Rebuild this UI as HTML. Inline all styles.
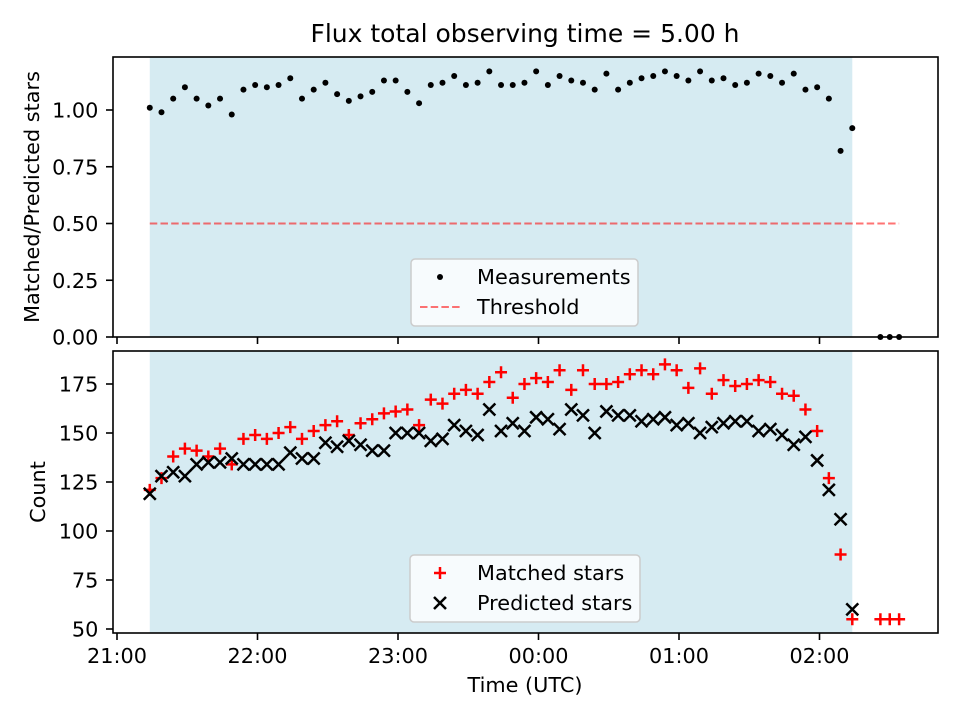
<!DOCTYPE html>
<html><head><meta charset="utf-8"><style>
body{margin:0;background:#fff}
svg{font-family:"DejaVu Sans","Liberation Sans",sans-serif}
</style></head><body>
<svg id="c" width="960" height="720" xmlns="http://www.w3.org/2000/svg"></svg>
<script>
const ratio=[1.01,0.99,1.05,1.10,1.05,1.02,1.05,0.98,1.09,1.11,1.10,1.11,1.14,1.05,1.09,1.12,1.07,1.04,1.06,1.08,1.13,1.13,1.08,1.03,1.11,1.12,1.15,1.11,1.12,1.17,1.11,1.11,1.12,1.17,1.11,1.15,1.13,1.12,1.09,1.16,1.09,1.12,1.14,1.15,1.17,1.15,1.13,1.17,1.13,1.14,1.11,1.12,1.16,1.15,1.12,1.16,1.09,1.10,1.05,0.82,0.92];
const matched=[121,127,138,142,141,138,142,134,147,149,147,150,153,147,151,154,156,149,155,157,160,161,162,154,167,165,170,172,170,176,181,168,175,178,176,182,172,182,175,175,176,180,182,180,185,182,173,183,170,177,174,175,177,176,170,169,162,151,127,88,55];
const predicted=[119,128,130,128,134,135,135,137,134,134,134,134,140,137,137,145,143,146,144,141,141,150,150,150,146,147,154,151,149,162,151,155,151,158,157,152,162,159,150,161,159,159,156,157,158,154,155,150,153,155,156,156,151,152,149,144,148,136,121,106,60];
const tailMin=[326,330,334];
const tailRatio=[0,0,0];
const tailMatched=[55,55,55];
const startMin=14, stepMin=5;
const xTicks=["21:00","22:00","23:00","00:00","01:00","02:00"];
const yTopTicks=[0,0.25,0.5,0.75,1.0];
const yBotTicks=[50,75,100,125,150,175];
const threshold=0.5;

const svg=document.getElementById('c');
const NS='http://www.w3.org/2000/svg';
function el(t,a,txt){const e=document.createElementNS(NS,t);for(const k in a)e.setAttribute(k,a[k]);if(txt!==undefined)e.textContent=txt;svg.appendChild(e);return e;}
const X=m=>117+m*140.5/60;
const YT=v=>337-v*227;
const YB=v=>629-(v-50)*1.96;
const L=113,R=938;
const FS=20.8;
const minutes=ratio.map((_,i)=>startMin+i*stepMin);
const spanEnd=minutes[minutes.length-1];

[[57,337],[351,633]].forEach(([t,b],pi)=>{
 let s=el('rect',{x:X(startMin),y:t,width:X(spanEnd)-X(startMin),height:b-t,fill:'#add8e6','fill-opacity':0.5});
 
 
});
let tl=el('line',{x1:X(startMin),x2:X(tailMin[2]),y1:YT(threshold),y2:YT(threshold),stroke:'#ff0000','stroke-opacity':0.55,'stroke-width':2,'stroke-dasharray':'7.5,3.2'});


ratio.forEach((v,i)=>{const c=el('circle',{cx:X(minutes[i]),cy:YT(v),r:3,fill:'#000'});

});
tailRatio.forEach((v,i)=>{const c=el('circle',{cx:X(tailMin[i]),cy:YT(v),r:3,fill:'#000'});

});
function plus(x,y){const p=el('path',{d:`M${x-6},${y}H${x+6}M${x},${y-6}V${y+6}`,stroke:'#f00','stroke-width':2.5});

}
function cross(x,y){const p=el('path',{d:`M${x-6},${y-6}L${x+6},${y+6}M${x-6},${y+6}L${x+6},${y-6}`,stroke:'#000','stroke-width':2.5});

}
matched.forEach((v,i)=>plus(X(minutes[i]),YB(v)));
tailMatched.forEach((v,i)=>plus(X(tailMin[i]),YB(v)));
predicted.forEach((v,i)=>cross(X(minutes[i]),YB(v)));

[[57,337,yTopTicks,YT,'top'],[351,633,yBotTicks,YB,'bottom']].forEach(([t,b,ticks,f,n])=>{
 const r=el('rect',{x:L,y:t,width:R-L,height:b-t,fill:'none',stroke:'#000','stroke-width':1.6});
 
 
 ticks.forEach(v=>{const y=f(v);el('line',{x1:L-7,x2:L,y1:y,y2:y,stroke:'#000','stroke-width':1.6});
  const tx=el('text',{x:L-14.6,y:y+7.5,'font-size':FS,'text-anchor':'end'},n==='top'?v.toFixed(2):String(v));
  
  });
 xTicks.forEach((s,i)=>{const x=X(i*60);el('line',{x1:x,x2:x,y1:b,y2:b+7,stroke:'#000','stroke-width':1.6});
  if(n==='bottom'){const tx=el('text',{x:x,y:b+30,'font-size':FS,'text-anchor':'middle'},s);
  
  }});
});
let t1=el('text',{x:525,y:42,'font-size':25,'text-anchor':'middle'},'Flux total observing time = 5.00 h');

let t2=el('text',{x:525,y:692,'font-size':FS,'text-anchor':'middle'},'Time (UTC)');

let t3=el('text',{x:0,y:0,'font-size':FS,'text-anchor':'middle',transform:'translate(39,197) rotate(-90)'},'Matched/Predicted stars');

let t4=el('text',{x:0,y:0,'font-size':FS,'text-anchor':'middle',transform:'translate(45,492) rotate(-90)'},'Count');


let lg1=el('rect',{x:411,y:259,width:227,height:67,rx:4,fill:'#fff','fill-opacity':0.8,stroke:'#ccc','stroke-width':1.5});

el('circle',{cx:440,cy:277,r:3,fill:'#000'});
let a=el('text',{x:477,y:284,'font-size':FS},'Measurements');
el('line',{x1:420,x2:461,y1:307,y2:307,stroke:'#f00','stroke-opacity':0.55,'stroke-width':2,'stroke-dasharray':'7.5,3.2'});
let b=el('text',{x:477,y:314,'font-size':FS},'Threshold');
let lg2=el('rect',{x:410,y:555,width:230,height:67,rx:4,fill:'#fff','fill-opacity':0.8,stroke:'#ccc','stroke-width':1.5});

plus(440,573);cross(440,603);
let c1=el('text',{x:477,y:580,'font-size':FS},'Matched stars');
let c2=el('text',{x:477,y:610,'font-size':FS},'Predicted stars');
</script>
</body></html>
